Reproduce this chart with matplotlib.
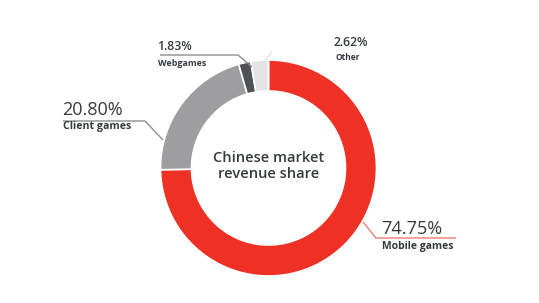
import matplotlib
matplotlib.use("Agg")
import matplotlib.pyplot as plt

categories = ["Mobile games", "Client games", "Webgames", "Other"]
shares = [74.75, 20.80, 1.83, 2.62]
share_labels = ["74.75%", "20.80%", "1.83%", "2.62%"]
colors = ["#ee3124", "#9e9ea0", "#4e5155", "#e4e4e6"]

W, H = 539, 303
fig = plt.figure(figsize=(W / 100, H / 100), dpi=100)
ax = fig.add_axes([0, 0, 1, 1])

def P(x, y):
    return (x, H - y)

cx, cy = P(268.5, 168)
ax.pie(shares, colors=colors, startangle=90, counterclock=False,
       center=(cx, cy), radius=108,
       wedgeprops=dict(width=31, edgecolor="white", linewidth=1.2))
ax.set_xlim(0, W)
ax.set_ylim(0, H)
ax.set_aspect("equal")
ax.axis("off")

txt = "#353a40"
font = "Open Sans"

ax.text(*P(cx, 166), "Chinese market\nrevenue share", ha="center", va="center",
        fontsize=10.5, fontweight="semibold", color=txt, family=font,
        linespacing=1.15)

# label layout: (value xy, name xy, value size, name size, value weight, leader points, leader color)
layout = {
    "Mobile games": ((381, 229), (382, 246), 13, 7.5, "medium",
                     [(363, 222), (376, 238), (456, 238)], "#ef7d74"),
    "Client games": ((62, 110), (63, 127), 13, 7.6, "medium",
                     [(163, 140), (145, 121), (63, 121)], "#8e8e90"),
    "Webgames": ((157, 47), (158, 63), 8.8, 6.4, "semibold",
                 [(252, 67), (238, 55), (160, 55)], "#8e8e90"),
    "Other": ((333, 42), (336, 57), 8.8, 6.0, "semibold",
              [(265, 61), (272, 51)], "#e2e2e4"),
}

for cat, lab in zip(categories, share_labels):
    vxy, nxy, vs, ns, vw, pts, lc = layout[cat]
    ax.text(*P(*vxy), lab, ha="left", va="center", fontsize=vs,
            color=txt, family=font, fontweight=vw)
    ax.text(*P(*nxy), cat, ha="left", va="center", fontsize=ns,
            color=txt, family=font, fontweight="bold")
    xs = [p[0] for p in pts]
    ys = [H - p[1] for p in pts]
    ax.plot(xs, ys, color=lc, lw=1.0, solid_capstyle="butt")

fig.savefig("out.png", dpi=100, facecolor="white")
